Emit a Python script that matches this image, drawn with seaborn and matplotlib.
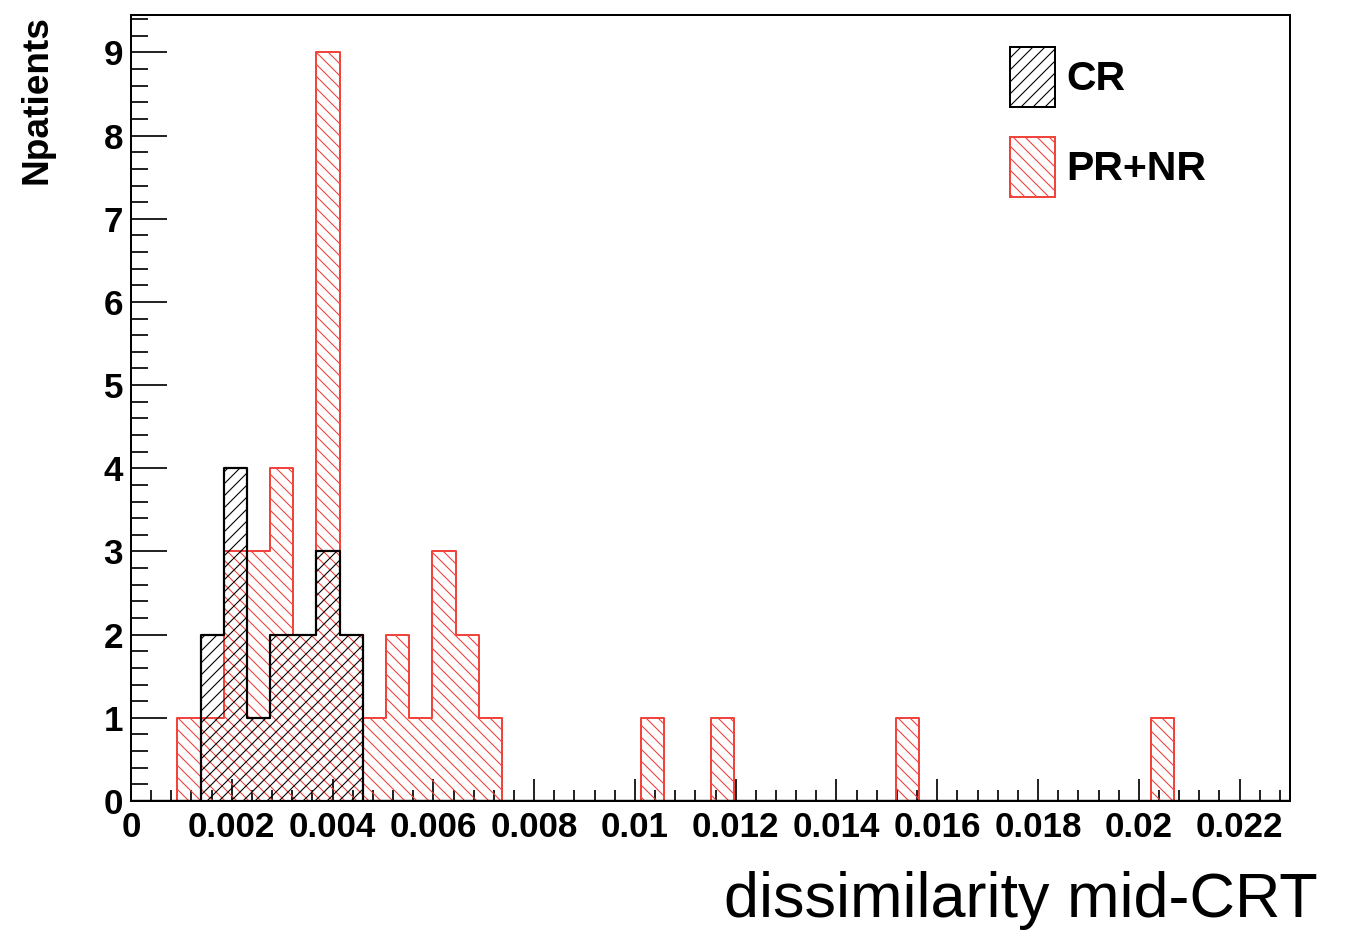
import numpy as np
import matplotlib
matplotlib.use("Agg")
import matplotlib.pyplot as plt
import seaborn as sns
from matplotlib.patches import Patch
from matplotlib.ticker import MultipleLocator, FuncFormatter

# ---- data (bin centres of 50 bins over 0..0.023, with counts) ----
cr_centers = [0.00161, 0.00207, 0.00253, 0.00299, 0.00345, 0.00391, 0.00437]
cr_counts = [2, 4, 1, 2, 2, 3, 2]

prnr_centers = [0.00115, 0.00161, 0.00207, 0.00253, 0.00299, 0.00345, 0.00391,
                0.00437, 0.00483, 0.00529, 0.00575, 0.00621, 0.00667, 0.00713,
                0.01035, 0.01173, 0.01541, 0.02047]
prnr_counts = [1, 1, 3, 3, 4, 2, 9, 2, 1, 2, 1, 3, 2, 1, 1, 1, 1, 1]

labels = ["CR", "PR+NR"]
n_bins = 50
x_range = (0.0, 0.023)
y_max = 9.45

RED = "#f0443c"
HATCH_CR = "////"
HATCH_PR = "\\\\\\\\"
DPI = 144
W, H = 1353, 931
px = 72.0 / DPI  # points per pixel

sns.set_style("white")
plt.rcParams["font.family"] = ["Liberation Sans", "DejaVu Sans"]
plt.rcParams["hatch.linewidth"] = 0.55

fig = plt.figure(figsize=(W / DPI, H / DPI), dpi=DPI)
ax = fig.add_axes([131 / W, 1 - 801 / H, (1290 - 131) / W, (801 - 15) / H])

sns.histplot(x=prnr_centers, weights=prnr_counts, bins=n_bins, binrange=x_range,
             element="step", fill=True, color=RED, facecolor="none", edgecolor=RED,
             hatch=HATCH_PR, linewidth=1.0, ax=ax)
sns.histplot(x=cr_centers, weights=cr_counts, bins=n_bins, binrange=x_range,
             element="step", fill=True, color="black", facecolor="none", edgecolor="black",
             hatch=HATCH_CR, linewidth=1.1, ax=ax)

ax.set_xlim(*x_range)
ax.set_ylim(0, y_max)
ax.set_xlabel("")
ax.set_ylabel("")

for s in ax.spines.values():
    s.set_linewidth(1.0)
    s.set_color("black")
    s.set_visible(True)

ax.xaxis.set_major_locator(MultipleLocator(0.002))
ax.xaxis.set_minor_locator(MultipleLocator(0.0004))
ax.yaxis.set_major_locator(MultipleLocator(1))
ax.yaxis.set_minor_locator(MultipleLocator(0.2))
ax.xaxis.set_major_formatter(FuncFormatter(lambda v, p: "%g" % round(v, 6)))
ax.yaxis.set_major_formatter(FuncFormatter(lambda v, p: "%d" % round(v)))

tick_fs = 35 * px
ax.tick_params(axis="x", which="major", direction="in", length=22 * px, width=1.0,
               labelsize=tick_fs, pad=5, bottom=True, top=False, labelcolor="black")
ax.tick_params(axis="x", which="minor", direction="in", length=11 * px, width=1.0,
               bottom=True, top=False)
ax.tick_params(axis="y", which="major", direction="in", length=36 * px, width=1.0,
               labelsize=tick_fs, pad=4, left=True, right=False, labelcolor="black")
ax.tick_params(axis="y", which="minor", direction="in", length=17 * px, width=1.0,
               left=True, right=False)
for t in ax.get_xticklabels() + ax.get_yticklabels():
    t.set_fontweight("bold")

# axis titles
fig.text(37 / W, 1 - 15 / H, "Npatients", rotation=90, ha="center", va="top",
         fontsize=37 * px, fontweight="bold", color="black")
fig.text(1318 / W, 1 - 917 / H, "dissimilarity mid-CRT", ha="right", va="baseline",
         fontsize=63 * px, color="black")

# legend
handles = [Patch(facecolor="none", edgecolor="black", hatch=HATCH_CR, linewidth=1.0),
           Patch(facecolor="none", edgecolor=RED, hatch=HATCH_PR, linewidth=1.0)]
leg_fs = 41 * px
leg = fig.legend(handles, labels, loc="upper left",
                 bbox_to_anchor=(1010 / W, 1 - 47 / H), bbox_transform=fig.transFigure,
                 frameon=False, borderpad=0, borderaxespad=0,
                 handlelength=45 / 41, handleheight=1.88, labelspacing=0.72,
                 handletextpad=0.27, prop={"size": leg_fs, "weight": "bold"})
for t in leg.get_texts():
    t.set_color("black")

fig.savefig("out.png", dpi=DPI)
